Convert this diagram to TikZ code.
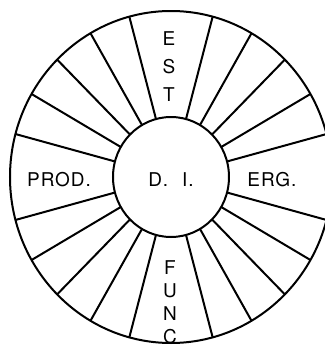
\documentclass[tikz,border=0pt]{standalone}
\usepackage{fontspec}
\setmainfont{TeX Gyre Heros}[LetterSpace=5]
\begin{document}
\begin{tikzpicture}[x=1pt, y=1pt, line width=2pt, every node/.style={font=\fontsize{19}{23}\selectfont}]
  \tikzstyle{lbl}=[inner sep=0pt,align=center]
  \useasboundingbox (-171,-169) rectangle (154,177);
  \clip (-171,-169) rectangle (154,177);
  \draw (0,0) ellipse [x radius=161, y radius=166];
  \draw (0,0) ellipse [x radius=58, y radius=60];
  \foreach \a in {15,30,45,60,75,105,120,135,150,165,195,210,225,240,255,285,300,315,330,345}
    \draw (\a:58pt and 60pt) -- (\a:161pt and 166pt);
  \node[lbl] (di) at (0,-3) {D.\hspace{14pt}I.};
  \node[lbl] (prod) at (-112,-3) {PROD.};
  \node[lbl] (erg) at (101,-3) {ERG.};
  \node[lbl,font=\fontsize{19}{28}\selectfont] (est) at (-2,110) {E\\S\\T};
  \node[lbl,font=\fontsize{19}{23}\selectfont] (func) at (-1,-125) {F\\U\\N\\C};
\end{tikzpicture}
\end{document}
